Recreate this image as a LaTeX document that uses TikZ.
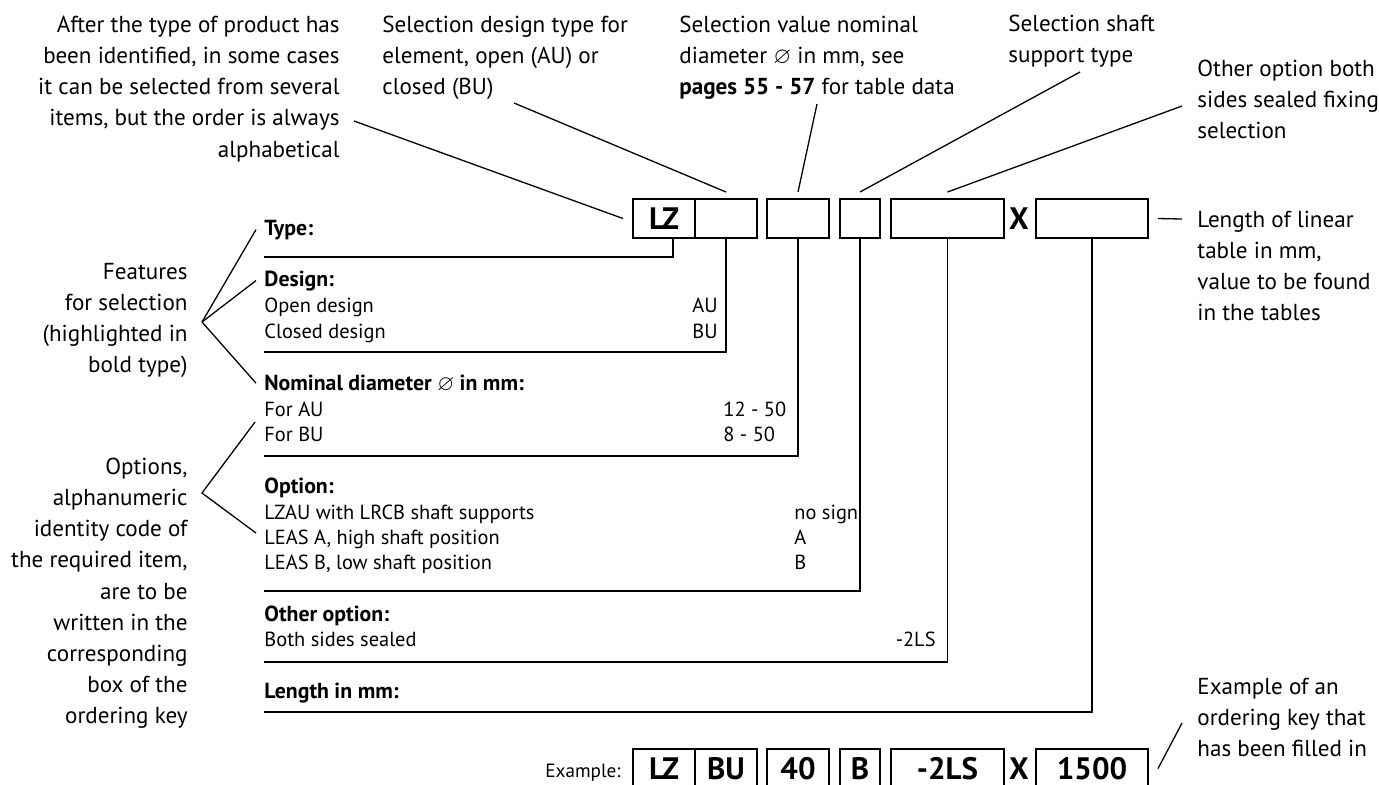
\documentclass[tikz,border=0pt]{standalone}
\usepackage{fontspec}
\usepackage{amssymb}
\setmainfont{PT Sans}
\newcommand{\notefont}{\fontsize{11.55}{15.6}\selectfont}
\newcommand{\rowfont}{\fontsize{10.2}{12.8}\selectfont}
\newcommand{\rowhead}[1]{{\fontsize{10.9}{12.8}\selectfont\bfseries #1}}
\newcommand{\keyfont}{\fontsize{15.5}{18}\selectfont\bfseries}
\newcommand{\exfont}{\fontsize{9.6}{12}\selectfont}

\begin{document}
\begin{tikzpicture}
            [x=0.5pt,y=-0.5pt,
             note/.style={inner sep=0pt,font=\notefont},
             row/.style={inner sep=0pt,anchor=base west,font=\rowfont},
             keybox/.style={draw,line width=1pt,minimum height=19.5pt,inner sep=0pt,font=\keyfont},
             lead/.style={line width=0.65pt},
             rule/.style={line width=0.9pt}]
            \useasboundingbox (0,0) rectangle (1379,784);

            % ordering key
            \node[keybox,minimum width=31pt] (lz) at (664,218.5) {LZ};
            \node[keybox,minimum width=31pt] (design) at (726,218.5) {};
            \node[keybox,minimum width=31pt] (dia) at (798,218.5) {};
            \node[keybox,minimum width=20pt] (shaft) at (860,218.5) {};
            \node[keybox,minimum width=56.5pt] (other) at (947.5,218.5) {};
            \node[inner sep=0pt,font=\keyfont] (times) at (1019,218.5) {X};
            \node[keybox,minimum width=56pt] (len) at (1092,218.5) {};

            % filled-in example
            \node[inner sep=0pt,anchor=base east,font=\exfont] (exlabel) at (621,777) {Example:};
            \node[keybox,minimum width=31pt] (exlz) at (664,768.5) {LZ};
            \node[keybox,minimum width=31pt] (exdesign) at (726,768.5) {BU};
            \node[keybox,minimum width=31pt] (exdia) at (798,768.5) {40};
            \node[keybox,minimum width=20pt] (exshaft) at (860,768.5) {B};
            \node[keybox,minimum width=56.5pt] (exother) at (947.5,768.5) {-2LS};
            \node[inner sep=0pt,font=\keyfont] (extimes) at (1019,768.5) {X};
            \node[keybox,minimum width=56pt] (exlen) at (1092,768.5) {1500};

            % table rows
            \foreach \y/\t in {235/\rowhead{Type:}, 286/\rowhead{Design:}, 312/Open design, 338/Closed design,
                390/\rowhead{Nominal diameter $\varnothing$ in mm:}, 416/For AU, 441/For BU,
                493/\rowhead{Option:}, 519/LZAU with LRCB shaft supports, 544/{LEAS A, high shaft position},
                569/{LEAS B, low shaft position}, 621/\rowhead{Other option:}, 646/Both sides sealed,
                698/\rowhead{Length in mm:}}
              \node[row] (r\y) at (264,\y) {\t};

            \node[row,anchor=base east] (vau) at (718,312) {AU};
            \node[row,anchor=base east] (vbu) at (718,338) {BU};
            \node[row] (vdau) at (723,416) {12 - 50};
            \node[row] (vdbu) at (723,441) {8 - 50};
            \node[row] (vnone) at (794,519) {no sign};
            \node[row] (va) at (794,544) {A};
            \node[row] (vb) at (794,569) {B};
            \node[row,anchor=base east] (vseal) at (936,646) {-2LS};

            \coordinate (typeL) at (264,257);
            \coordinate (designL) at (264,352);
            \coordinate (diaL) at (264,456);
            \coordinate (shaftL) at (264,591);
            \coordinate (otherL) at (264,662);
            \coordinate (lenL) at (264,712);

            \draw[rule] ([xshift=4.5pt]lz.south) |- (typeL);
            \draw[rule] (design.south) |- (designL);
            \draw[rule] (dia.south) |- (diaL);
            \draw[rule] (shaft.south) |- (shaftL);
            \draw[rule] (other.south) |- (otherL);
            \draw[rule] (len.south) |- (lenL);

            % notes
            \node[note,anchor=north east,align=right] (nprod) at (340,15.5)
              {After the type of product has\\been identified, in some cases\\it can be selected from several\\items, but the order is always\\alphabetical};
            \node[note,anchor=north west,align=left] (ndesign) at (382,15.5)
              {Selection design type for\\element, open (AU) or\\closed (BU)};
            \node[note,anchor=north west,align=left] (ndia) at (679,15.5)
              {Selection value nominal\\diameter $\varnothing$ in mm, see\\\textbf{pages 55 - 57} for table data};
            \node[note,anchor=north west,align=left] (nshaft) at (1008,14.5)
              {Selection shaft\\support type};
            \node[note,anchor=north west,align=left] (nother) at (1197,59.5)
              {Other option both\\sides sealed fixing\\selection};
            \node[note,anchor=north west,align=left] (nlen) at (1197,210.5)
              {Length of linear\\table in mm,\\value to be found\\in the tables};
            \node[note,anchor=north west,align=left] (nex) at (1197,677.5)
              {Example of an\\ordering key that\\has been filled in};
            \node[note,anchor=north east,align=right] (nfeat) at (188,262.5)
              {Features\\for selection\\(highlighted in\\bold type)};
            \node[note,anchor=north east,align=right] (nopt) at (188,457.5)
              {Options,\\alphanumeric\\identity code of\\the required item,\\are to be\\written in the\\corresponding\\box of the\\ordering key};

            % leaders
            \coordinate (aprod) at (354,121);
            \coordinate (adesign) at (514,103);
            \coordinate (adia) at (817,104);
            \coordinate (ashaft) at (1080,72);
            \coordinate (aother) at (1182,106);
            \coordinate (alen) at (1182,219);
            \coordinate (aex) at (1182,723);
            \coordinate (featTip) at (202,322);
            \coordinate (optTip) at (202,493);
            \coordinate (optTop) at (255,422);
            \coordinate (optLow) at (256,533);

            \draw[lead] (aprod) -- ([xshift=-4.5pt]lz.west);
            \draw[lead] (adesign) -- ([yshift=3pt]design.north);
            \draw[lead] (adia) -- ([yshift=3pt]dia.north);
            \draw[lead] (ashaft) -- ([yshift=3pt]shaft.north);
            \draw[lead] (aother) -- ([yshift=3pt]other.north);
            \draw[lead] ([xshift=4.5pt]len.east) -- (alen);
            \draw[lead] ([xshift=4.5pt]exlen.east) -- (aex);

            \draw[lead] (featTip) -- ([xshift=-4pt]r235.west);
            \draw[lead] (featTip) -- ([xshift=-4pt]r286.west);
            \draw[lead] (featTip) -- ([xshift=-4pt]r390.west);
            \draw[lead] (optTop) -- (optTip) -- (optLow);
          \end{tikzpicture}
\end{document}
